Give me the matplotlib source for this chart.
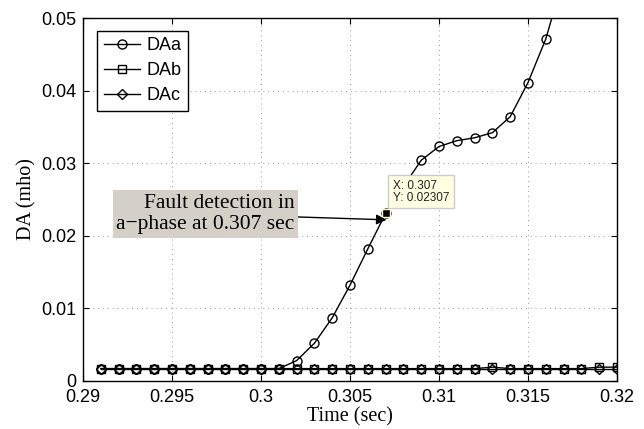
import numpy as np
import matplotlib
matplotlib.use('Agg')
import matplotlib.pyplot as plt

# time axis (sec)
t = [0.291, 0.292, 0.293, 0.294, 0.295, 0.296, 0.297, 0.298, 0.299, 0.300,
     0.301, 0.302, 0.303, 0.304, 0.305, 0.306, 0.307, 0.308, 0.309, 0.310,
     0.311, 0.312, 0.313, 0.314, 0.315, 0.316, 0.317, 0.318, 0.319, 0.320]

# phase admittances (mho)
da_a = [0.0017, 0.0017, 0.0017, 0.0017, 0.0017, 0.0017, 0.0017, 0.0017, 0.0017, 0.0017,
        0.0017, 0.0028, 0.0052, 0.0087, 0.0132, 0.0182, 0.02307, 0.0268, 0.0304, 0.0323,
        0.0331, 0.0335, 0.0342, 0.0364, 0.0411, 0.0471, 0.0556, 0.064, 0.072, 0.080]
da_b = [0.0017, 0.0017, 0.0017, 0.0017, 0.0017, 0.0017, 0.0017, 0.0017, 0.0017, 0.0017,
        0.0017, 0.0017, 0.0017, 0.0017, 0.0017, 0.0017, 0.0017, 0.0017, 0.0017, 0.0017,
        0.0017, 0.0017, 0.0019, 0.0017, 0.0017, 0.0017, 0.0017, 0.0017, 0.0019, 0.0019]
da_c = [0.0017, 0.0017, 0.0017, 0.0017, 0.0017, 0.0017, 0.0017, 0.0017, 0.0017, 0.0017,
        0.0017, 0.0017, 0.0017, 0.0017, 0.0017, 0.0017, 0.0017, 0.0017, 0.0017, 0.0017,
        0.0017, 0.0017, 0.0017, 0.0017, 0.0017, 0.0017, 0.0017, 0.0017, 0.0017, 0.0017]

x_ticks = [0.29, 0.295, 0.3, 0.305, 0.31, 0.315, 0.32]
x_tick_labels = ['0.29', '0.295', '0.3', '0.305', '0.31', '0.315', '0.32']
y_ticks = [0, 0.01, 0.02, 0.03, 0.04, 0.05]
y_tick_labels = ['0', '0.01', '0.02', '0.03', '0.04', '0.05']

tip_x = 0.307
tip_y = 0.02307

sans = ['Liberation Sans', 'DejaVu Sans']
serif = ['Liberation Serif', 'DejaVu Serif']

fig = plt.figure(figsize=(6.44, 4.29), dpi=100)
ax = fig.add_axes([0.129, 0.112, 0.829, 0.846])

ms = 6.5
ax.plot(t, da_a, 'k-', lw=1, marker='o', ms=ms, mfc='none', mew=1, label='DAa')
ax.plot(t, da_b, 'k-', lw=1, marker='s', ms=ms - 0.5, mfc='none', mew=1, label='DAb')
ax.plot(t, da_c, 'k-', lw=1, marker='D', ms=ms - 1, mfc='none', mew=1, label='DAc')

ax.set_xlim(0.29, 0.32)
ax.set_ylim(0, 0.05)
ax.set_xticks(x_ticks)
ax.set_xticklabels(x_tick_labels, family=sans, fontsize=13)
ax.set_yticks(y_ticks)
ax.set_yticklabels(y_tick_labels, family=sans, fontsize=13)
ax.tick_params(direction='in', top=True, right=True, length=4, width=0.8)
ax.tick_params(axis='x', pad=6)
ax.tick_params(axis='y', pad=5)
ax.grid(True, color='#999999', linestyle=(0, (1, 4)), linewidth=0.7)
for sp in ax.spines.values():
    sp.set_linewidth(1)

ax.set_xlabel('Time (sec)', family=serif, fontsize=14.5, labelpad=1)
ax.set_ylabel('DA (mho)', family=serif, fontsize=14.5, labelpad=3)

leg = ax.legend(loc='upper left', bbox_to_anchor=(0.027, 0.965), fancybox=False,
                edgecolor='k', framealpha=1, prop={'family': sans, 'size': 13},
                handlelength=2.0, borderpad=0.35, labelspacing=0.45, handletextpad=0.35,
                borderaxespad=0)
leg.get_frame().set_linewidth(1)

# data tip
ax.plot([tip_x], [tip_y], 's', color='k', ms=6, mec='#ffffcc', mew=1, zorder=6)
ax.annotate('X: %g\nY: %g' % (tip_x, tip_y), xy=(tip_x, tip_y), xytext=(5, 7),
            textcoords='offset points', family=sans, fontsize=8.5, color='#222222',
            va='bottom', ha='left', linespacing=1.0,
            bbox=dict(boxstyle='square,pad=0.4', fc='#ffffe1', ec='#cccccc', lw=1),
            zorder=7)

# fault detection note
ax.annotate('Fault detection in\na\u2212phase at 0.307 sec', xy=(0.30705, 0.0222),
            xytext=(0.3019, 0.0230), family=serif, fontsize=15.5, ha='right', va='center',
            linespacing=1.2,
            bbox=dict(boxstyle='square,pad=0.15', fc='#d4d0c8', ec='none'),
            arrowprops=dict(arrowstyle='-|>', color='k', lw=1, mutation_scale=15,
                            shrinkA=0, shrinkB=0),
            zorder=8)

fig.savefig('out.png', dpi=100)
